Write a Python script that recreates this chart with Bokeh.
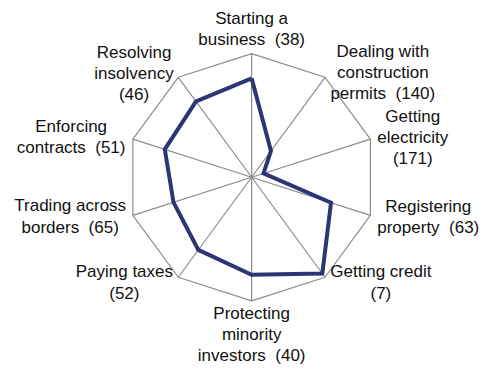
import numpy as np
from bokeh.plotting import figure
from bokeh.models import Range1d, ColumnDataSource
from bokeh.core.properties import value
from bokeh.embed import file_html
from bokeh.resources import INLINE

# ---- data ----
NB = "\u00a0 "  # double space before the rank
labels = [
    "Starting a\nbusiness" + NB + "(38)",
    "Dealing with\nconstruction\npermits" + NB + "(140)",
    "Getting\nelectricity\n(171)",
    "Registering\nproperty" + NB + "(63)",
    "Getting credit\n(7)",
    "Protecting\nminority\ninvestors" + NB + "(40)",
    "Paying taxes\n(52)",
    "Trading across\nborders" + NB + "(65)",
    "Enforcing\ncontracts" + NB + "(51)",
    "Resolving\ninsolvency\n(46)",
]
ranks = [38, 140, 171, 63, 7, 40, 52, 65, 51, 46]
axis_max = 190  # radial scale: plotted value = axis_max - rank

# ---- layout / style ----
W, H = 481, 365
REF_W, REF_H = 497, 381
sx, sy = W / REF_W, H / REF_H
R_px = 129                     # outer radius in reference pixels
cx_ref, cy_ref = 259.5, 184.5  # centre in reference pixels
kx = axis_max / (R_px * sx)    # data units per figure pixel (x)
ky = axis_max / (R_px * sy)    # data units per figure pixel (y)
cx, cy = cx_ref * sx, cy_ref * sy
label_dx = [0, 59.7, 43.8, 59.8, 57.7, 0, -55.7, -64.8, -63.8, -45.7]
label_dy = [-26, -4.8, -1.8, 1.8, 5.6, 35.0, 5.6, 1.1, -2.1, -3.9]

n = len(ranks)
ang = np.deg2rad(90 - 360 / n * np.arange(n))
vals = np.array([axis_max - r for r in ranks], dtype=float)

p = figure(width=W, height=H, output_backend="svg", toolbar_location=None,
           x_range=Range1d(-cx * kx, (W - cx) * kx),
           y_range=Range1d(-(H - cy) * ky, cy * ky),
           min_border=0, outline_line_color=None)
p.axis.visible = False
p.grid.visible = False
p.background_fill_color = "white"
p.border_fill_color = "white"

ox = axis_max * np.cos(ang)
oy = axis_max * np.sin(ang)
grid_col = "#8c8c8c"
p.multi_line(xs=[[0, x] for x in ox], ys=[[0, y] for y in oy],
             line_color=grid_col, line_width=1.2)
p.line(list(ox) + [ox[0]], list(oy) + [oy[0]], line_color=grid_col, line_width=1.2)

vx = vals * np.cos(ang)
vy = vals * np.sin(ang)
p.line(list(vx) + [vx[0]], list(vy) + [vy[0]], line_color="#2E3574",
       line_width=4, line_join="miter")

src = ColumnDataSource(dict(x=ox, y=oy, t=labels,
                            dx=[d * sx for d in label_dx],
                            dy=[d * sy for d in label_dy]))
p.text(x="x", y="y", text="t", x_offset="dx", y_offset="dy", source=src,
       text_font=value("Liberation Sans"), text_font_size="17px",
       text_color="#111111", text_align="center", text_baseline="middle",
       text_line_height=1.12)

open("out.html", "w").write(file_html(p, INLINE))
